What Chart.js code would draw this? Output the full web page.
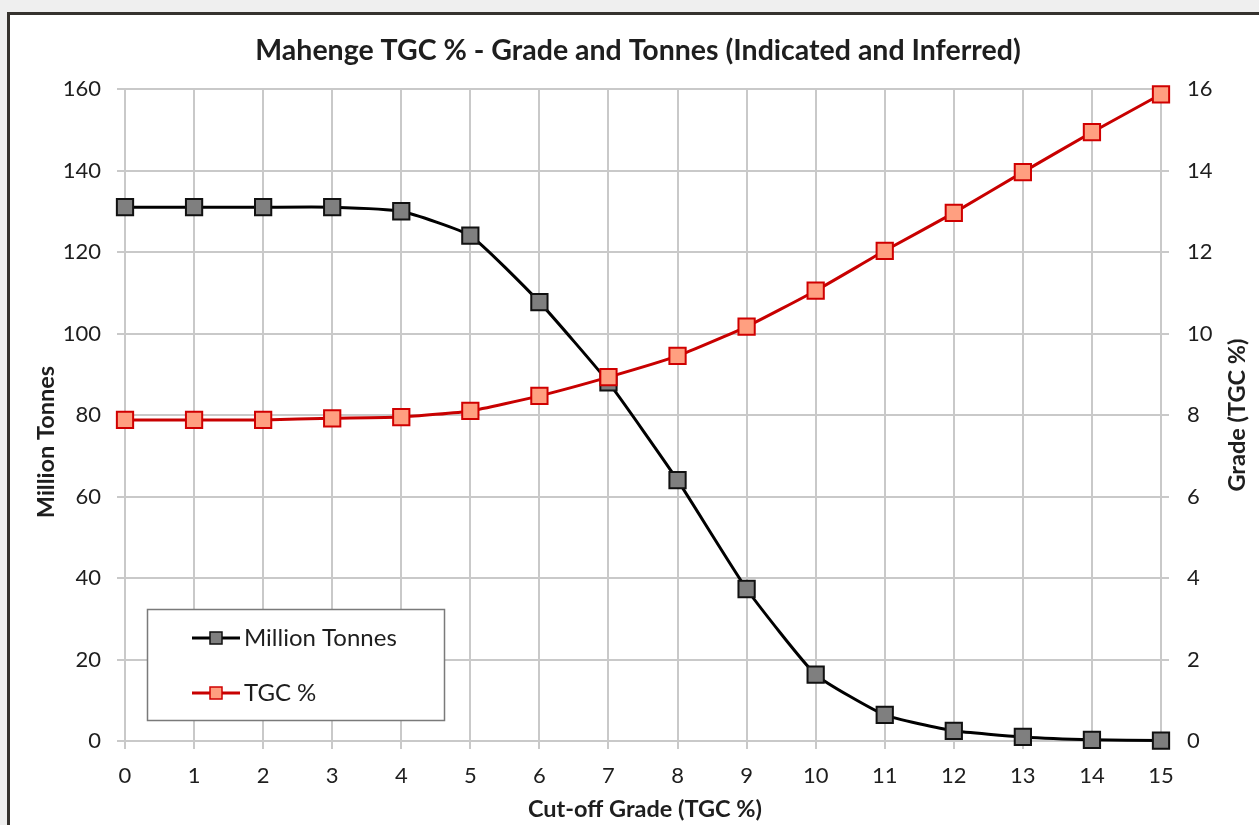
<!DOCTYPE html>
<html>
<head>
<meta charset="utf-8">
<title>Mahenge TGC % - Grade and Tonnes</title>
<script src="https://cdn.jsdelivr.net/npm/chart.js@4/dist/chart.umd.min.js"></script>
<style>
    html, body { margin: 0; padding: 0; background: #efefef; overflow: hidden; }
    .frame {
        position: absolute; left: 7px; top: 12px; width: 1300px; height: 900px;
        background: #fff; border: 3px solid #35322e;
    }
    #wrap { position: absolute; left: 0; top: 0; width: 1259px; height: 825px; }
</style>
</head>
<body>
<div class="frame"></div>
<div id="wrap"><canvas id="chart" width="1259" height="825"></canvas></div>
<script>
// ========== Data ==========
const cutoffGrades = ['0', '1', '2', '3', '4', '5', '6', '7', '8', '9', '10', '11', '12', '13', '14', '15'];
const millionTonnes = [131, 131, 131, 131, 130, 124, 107.7, 88, 64, 37.3, 16.3, 6.4, 2.5, 1.0, 0.3, 0.1];
const gradeTGC = [7.88, 7.88, 7.88, 7.92, 7.95, 8.1, 8.47, 8.93, 9.45, 10.17, 11.05, 12.03, 12.96, 13.96, 14.94, 15.87];

const chartTitle = 'Mahenge TGC % - Grade and Tonnes (Indicated and Inferred)';
const xTitle = 'Cut-off Grade (TGC %)';
const yTitle = 'Million Tonnes';
const y1Title = 'Grade (TGC %)';

const FONT = 'Lato, "Open Sans", sans-serif';
const TEXT = '#1e1e1e';
const GRID = '#c9c9c9';

// Fixed plot box, matching the Excel layout
const PLOT = { left: 125, right: 1161, top: 89, bottom: 741 };

// Title, axis titles and the inset legend are drawn by hand
const decorPlugin = {
    id: 'decor',
    afterDraw(chart) {
        const ctx = chart.ctx;
        const area = chart.chartArea;
        ctx.save();
        ctx.fillStyle = TEXT;
        ctx.textAlign = 'center';
        ctx.textBaseline = 'middle';

        ctx.font = 'bold 28.5px ' + FONT;
        ctx.fillText(chartTitle, 638, 51);

        ctx.font = 'bold 23.5px ' + FONT;
        ctx.fillText(xTitle, 645, 809);

        ctx.save();
        ctx.translate(46, 442);
        ctx.rotate(-Math.PI / 2);
        ctx.fillText(yTitle, 0, 0);
        ctx.restore();

        ctx.save();
        ctx.translate(1237, (area.top + area.bottom) / 2);
        ctx.rotate(-Math.PI / 2);
        ctx.fillText(y1Title, 0, 0);
        ctx.restore();

        // Legend box
        const box = { x: 147.5, y: 609.5, w: 297, h: 111 };
        ctx.fillStyle = '#fff';
        ctx.fillRect(box.x, box.y, box.w, box.h);
        ctx.strokeStyle = '#7a7a7a';
        ctx.lineWidth = 1.5;
        ctx.strokeRect(box.x, box.y, box.w, box.h);

        const rows = [638, 693];
        chart.data.datasets.forEach((ds, i) => {
            const y = rows[i];
            ctx.strokeStyle = ds.borderColor;
            ctx.lineWidth = 3;
            ctx.beginPath();
            ctx.moveTo(192, y);
            ctx.lineTo(240, y);
            ctx.stroke();
            ctx.fillStyle = ds.pointBackgroundColor;
            ctx.strokeStyle = ds.pointBorderColor;
            ctx.lineWidth = 1.5;
            ctx.fillRect(210, y - 6, 12, 12);
            ctx.strokeRect(210, y - 6, 12, 12);
            ctx.fillStyle = TEXT;
            ctx.textAlign = 'left';
            ctx.font = '24px ' + FONT;
            ctx.fillText(ds.label, 244, y);
        });
        ctx.restore();
    }
};

const ctx = document.getElementById('chart').getContext('2d');
new Chart(ctx, {
    type: 'line',
    data: {
        labels: cutoffGrades,
        datasets: [
            {
                label: 'Million Tonnes',
                data: millionTonnes,
                yAxisID: 'y',
                borderColor: '#000',
                borderWidth: 3,
                pointStyle: 'rect',
                pointRadius: 11.5,
                pointBackgroundColor: '#7f7f7f',
                pointBorderColor: '#111',
                pointBorderWidth: 2,
                tension: 0.15,
                order: 1,
                clip: false
            },
            {
                label: 'TGC %',
                data: gradeTGC,
                yAxisID: 'y1',
                borderColor: '#c80000',
                borderWidth: 3,
                pointStyle: 'rect',
                pointRadius: 11.5,
                pointBackgroundColor: '#ff9f80',
                pointBorderColor: '#d00000',
                pointBorderWidth: 2,
                tension: 0.15,
                order: 0,
                clip: false
            }
        ]
    },
    options: {
        responsive: false,
        animation: false,
        events: [],
        layout: { padding: { top: PLOT.top, left: 0, right: 0, bottom: 0 } },
        plugins: {
            legend: { display: false },
            title: { display: false },
            tooltip: { enabled: false }
        },
        scales: {
            x: {
                grid: { color: GRID, lineWidth: 2, tickLength: 8 },
                border: { display: false },
                ticks: { color: TEXT, font: { family: FONT, size: 22 }, padding: 14, maxRotation: 0 },
                afterFit: s => { s.height = 825 - PLOT.bottom; }
            },
            y: {
                position: 'left',
                min: 0, max: 160,
                grid: { color: GRID, lineWidth: 2, tickLength: 8 },
                border: { display: false },
                ticks: { stepSize: 20, color: TEXT, font: { family: FONT, size: 22 }, padding: 16 },
                afterFit: s => { s.width = PLOT.left; }
            },
            y1: {
                position: 'right',
                min: 0, max: 16,
                grid: { drawOnChartArea: false, color: GRID, lineWidth: 2, tickLength: 8 },
                border: { display: false },
                ticks: { stepSize: 2, color: TEXT, font: { family: FONT, size: 22 }, padding: 18 },
                afterFit: s => { s.width = 1259 - PLOT.right; }
            }
        }
    },
    plugins: [decorPlugin]
});
</script>
</body>
</html>
